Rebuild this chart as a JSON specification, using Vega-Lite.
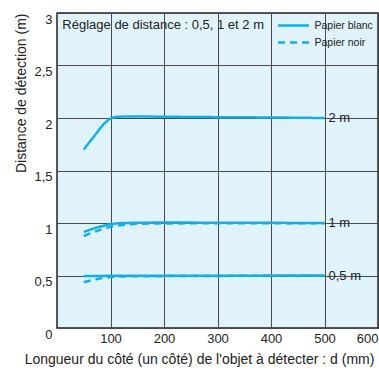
{
  "$schema": "https://vega.github.io/schema/vega-lite/v6.json",
  "width": 321,
  "height": 315,
  "autosize": {"type": "none"},
  "padding": {"left": 57, "top": 13, "right": 1, "bottom": 42},
  "config": {
    "font": "Liberation Sans",
    "view": {"fill": "#e0f3fb", "stroke": "#222222", "strokeWidth": 1.5},
    "axis": {"domain": false, "ticks": false, "gridColor": "#4a4a4a", "gridWidth": 1, "gridOpacity": 1, "labelColor": "#222222", "titleColor": "#222222", "labelFontSize": 13, "titleFontSize": 14, "titleFontWeight": "normal", "labelFont": "Liberation Sans", "titleFont": "Liberation Sans"}
  },
  "datasets": {
    "curves": [
      {"setting": "2 m", "paper": "Papier blanc", "d": 50, "v": 1.70},
      {"setting": "2 m", "paper": "Papier blanc", "d": 70, "v": 1.83},
      {"setting": "2 m", "paper": "Papier blanc", "d": 90, "v": 1.955},
      {"setting": "2 m", "paper": "Papier blanc", "d": 102, "v": 2.0},
      {"setting": "2 m", "paper": "Papier blanc", "d": 115, "v": 2.012},
      {"setting": "2 m", "paper": "Papier blanc", "d": 140, "v": 2.015},
      {"setting": "2 m", "paper": "Papier blanc", "d": 200, "v": 2.012},
      {"setting": "2 m", "paper": "Papier blanc", "d": 300, "v": 2.008},
      {"setting": "2 m", "paper": "Papier blanc", "d": 400, "v": 2.005},
      {"setting": "2 m", "paper": "Papier blanc", "d": 500, "v": 2.0},
      {"setting": "1 m", "paper": "Papier noir", "d": 50, "v": 0.875},
      {"setting": "1 m", "paper": "Papier noir", "d": 75, "v": 0.925},
      {"setting": "1 m", "paper": "Papier noir", "d": 100, "v": 0.963},
      {"setting": "1 m", "paper": "Papier noir", "d": 125, "v": 0.983},
      {"setting": "1 m", "paper": "Papier noir", "d": 150, "v": 0.992},
      {"setting": "1 m", "paper": "Papier noir", "d": 200, "v": 0.996},
      {"setting": "1 m", "paper": "Papier noir", "d": 300, "v": 0.997},
      {"setting": "1 m", "paper": "Papier noir", "d": 500, "v": 0.998},
      {"setting": "1 m", "paper": "Papier blanc", "d": 50, "v": 0.915},
      {"setting": "1 m", "paper": "Papier blanc", "d": 75, "v": 0.957},
      {"setting": "1 m", "paper": "Papier blanc", "d": 100, "v": 0.988},
      {"setting": "1 m", "paper": "Papier blanc", "d": 125, "v": 1.0},
      {"setting": "1 m", "paper": "Papier blanc", "d": 200, "v": 1.004},
      {"setting": "1 m", "paper": "Papier blanc", "d": 300, "v": 1.003},
      {"setting": "1 m", "paper": "Papier blanc", "d": 500, "v": 1.0},
      {"setting": "0,5 m", "paper": "Papier noir", "d": 50, "v": 0.435},
      {"setting": "0,5 m", "paper": "Papier noir", "d": 75, "v": 0.466},
      {"setting": "0,5 m", "paper": "Papier noir", "d": 100, "v": 0.485},
      {"setting": "0,5 m", "paper": "Papier noir", "d": 125, "v": 0.491},
      {"setting": "0,5 m", "paper": "Papier noir", "d": 200, "v": 0.494},
      {"setting": "0,5 m", "paper": "Papier noir", "d": 300, "v": 0.496},
      {"setting": "0,5 m", "paper": "Papier noir", "d": 500, "v": 0.498},
      {"setting": "0,5 m", "paper": "Papier blanc", "d": 50, "v": 0.496},
      {"setting": "0,5 m", "paper": "Papier blanc", "d": 150, "v": 0.497},
      {"setting": "0,5 m", "paper": "Papier blanc", "d": 300, "v": 0.498},
      {"setting": "0,5 m", "paper": "Papier blanc", "d": 500, "v": 0.5}
    ],
    "labels": [
      {"d": 500, "v": 2.0, "label": "2 m"},
      {"d": 500, "v": 1.0, "label": "1 m"},
      {"d": 500, "v": 0.5, "label": "0,5 m"}
    ]
  },
  "layer": [
    {
      "data": {"name": "curves"},
      "mark": {"type": "line", "interpolate": "monotone", "strokeWidth": 2.5, "color": "#13aee9", "strokeCap": "butt"},
      "encoding": {
        "x": {"field": "d", "type": "quantitative", "scale": {"domain": [0, 600], "nice": false},
          "axis": {"values": [100, 200, 300, 400, 500, 600], "grid": true, "labelPadding": 4, "labelFlush": true,
            "title": "Longueur du côté (un côté) de l'objet à détecter : d (mm)", "titlePadding": 7, "titleX": 142, "titleAnchor": "middle"}},
        "y": {"field": "v", "type": "quantitative", "scale": {"domain": [0, 3], "nice": false},
          "axis": {"values": [0, 0.5, 1, 1.5, 2, 2.5, 3], "grid": true, "labelBaseline": "top", "labelPadding": 5,
            "labelExpr": "replace(format(datum.value, '~g'), '.', ',')",
            "title": "Distance de détection (m)", "titleAnchor": "end", "titlePadding": 5}},
        "detail": {"field": "setting"},
        "strokeDash": {"field": "paper", "type": "nominal",
          "scale": {"domain": ["Papier blanc", "Papier noir"], "range": [[1, 0], [7, 5]]},
          "legend": {"title": null, "orient": "none", "legendX": 230, "legendY": 6, "padding": 0, "symbolType": "M-3.1,0H3.1",
            "symbolSize": 100, "symbolStrokeWidth": 2.5, "symbolStrokeColor": "#13aee9", "symbolFillColor": "transparent",
            "labelFont": "Liberation Sans", "labelFontSize": 10.5, "labelColor": "#222222", "labelOffset": 14.5, "rowPadding": 5}}
      }
    },
    {
      "data": {"name": "labels"},
      "mark": {"type": "text", "align": "left", "baseline": "middle", "dx": 4, "fontSize": 13, "color": "#222222", "font": "Liberation Sans"},
      "encoding": {
        "x": {"field": "d", "type": "quantitative"},
        "y": {"field": "v", "type": "quantitative"},
        "text": {"field": "label"}
      }
    },
    {
      "data": {"values": [{"note": "Réglage de distance : 0,5, 1 et 2 m"}]},
      "mark": {"type": "text", "align": "left", "baseline": "middle", "fontSize": 13, "color": "#222222", "font": "Liberation Sans"},
      "encoding": {
        "x": {"datum": 10},
        "y": {"datum": 2.885},
        "text": {"field": "note"}
      }
    }
  ]
}
